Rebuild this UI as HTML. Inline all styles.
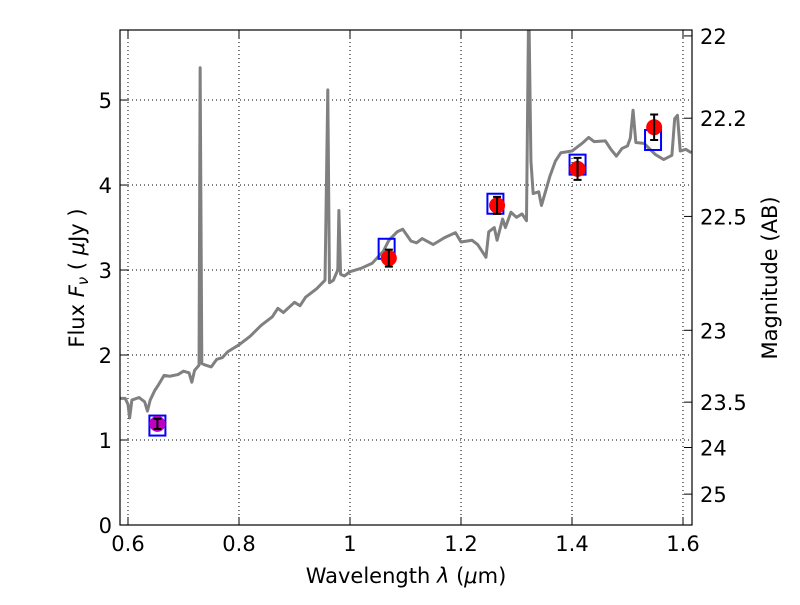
<!DOCTYPE html>
<html><head><meta charset="utf-8"><style>
body{margin:0;background:#fff;font-family:"Liberation Sans","DejaVu Sans",sans-serif}
svg text{font-family:"DejaVu Sans","Liberation Sans",sans-serif}
</style></head><body>
<svg id="c" width="800" height="600"></svg>
<script>
const specWave=[0.586,0.595,0.600,0.603,0.607,0.620,0.630,0.635,0.640,0.648,0.655,0.665,0.675,0.69,0.70,0.71,0.715,0.72,0.728,0.730,0.733,0.74,0.75,0.76,0.77,0.78,0.80,0.82,0.84,0.86,0.87,0.88,0.90,0.91,0.92,0.94,0.955,0.960,0.963,0.97,0.978,0.980,0.983,0.99,1.0,1.02,1.04,1.05,1.06,1.07,1.085,1.095,1.11,1.12,1.13,1.15,1.17,1.19,1.20,1.22,1.23,1.245,1.25,1.26,1.265,1.275,1.28,1.29,1.30,1.31,1.318,1.322,1.326,1.33,1.34,1.345,1.36,1.37,1.38,1.40,1.42,1.43,1.44,1.46,1.47,1.48,1.49,1.50,1.505,1.51,1.515,1.53,1.55,1.565,1.58,1.585,1.59,1.595,1.605,1.615];
const specFlux=[1.49,1.49,1.42,1.26,1.47,1.50,1.45,1.34,1.47,1.58,1.65,1.76,1.75,1.77,1.81,1.79,1.68,1.82,1.88,5.38,1.90,1.88,1.86,1.95,1.97,2.04,2.12,2.22,2.35,2.45,2.55,2.50,2.62,2.58,2.68,2.78,2.88,5.12,2.85,2.88,3.00,3.70,2.95,2.93,2.98,3.02,3.08,3.15,3.22,3.35,3.45,3.48,3.34,3.32,3.37,3.30,3.38,3.44,3.33,3.35,3.30,3.15,3.45,3.50,3.35,3.60,3.50,3.68,3.62,3.66,3.58,6.2,4.28,3.90,3.92,3.76,4.10,4.28,4.38,4.40,4.50,4.56,4.51,4.52,4.42,4.34,4.43,4.46,4.55,4.88,4.50,4.49,4.36,4.30,4.35,4.78,4.82,4.40,4.42,4.38];
const photWave=[0.653,1.07,1.265,1.41,1.548];
const photFlux=[1.19,3.14,3.76,4.19,4.68];
const photErr=[0.06,0.1,0.1,0.13,0.15];
const modelWave=[0.653,1.066,1.262,1.41,1.546];
const modelFlux=[1.17,3.25,3.78,4.24,4.53];
const xTicks=[0.6,0.8,1.0,1.2,1.4,1.6];
const xTickLabels=["0.6","0.8","1","1.2","1.4","1.6"];
const yTicks=[0,1,2,3,4,5];
const magTicks=[22,22.2,22.5,23,23.5,24,25];
const magLabels=["22","22.2","22.5","23","23.5","24","25"];

const L=120,R=692,T=30,B=525,X0=0.5856,X1=1.6162,Y0=0,Y1=5.824;
const sx=v=>L+(v-X0)/(X1-X0)*(R-L);
const sy=v=>B-(v-Y0)/(Y1-Y0)*(B-T);
const svg=document.getElementById('c');const NS='http://www.w3.org/2000/svg';
function mk(t,a,p){const e=document.createElementNS(NS,t);for(const k in a)e.setAttribute(k,a[k]);(p||svg).appendChild(e);return e;}
const defs=mk('defs',{});const cp=mk('clipPath',{id:'cp'},defs);mk('rect',{x:L,y:T,width:R-L,height:B-T},cp);
xTicks.forEach((v,i)=>{const x=sx(v);
 const g=mk('line',{x1:x,x2:x,y1:T,y2:B,stroke:'#000','stroke-dasharray':'1,3','stroke-width':1});
 
 mk('line',{x1:x,x2:x,y1:B,y2:B-8,stroke:'#000'});mk('line',{x1:x,x2:x,y1:T,y2:T+8,stroke:'#000'});
 const t=mk('text',{x:x,y:B+26,'text-anchor':'middle','font-size':21});t.textContent=xTickLabels[i];
 });
yTicks.forEach(v=>{const y=sy(v);
 const g=mk('line',{x1:L,x2:R,y1:y,y2:y,stroke:'#000','stroke-dasharray':'1,3','stroke-width':1});
 
 mk('line',{x1:L,x2:L+8,y1:y,y2:y,stroke:'#000'});
 const t=mk('text',{x:L-8,y:y+8,'text-anchor':'end','font-size':21});t.textContent=String(v);
 });
magTicks.forEach((m,i)=>{const f=Math.pow(10,(23.9-m)/2.5);const y=sy(f);if(y<T-1)return;
 mk('line',{x1:R,x2:R-8,y1:y,y2:y,stroke:'#000'});
 const t=mk('text',{x:R+8,y:y+8,'font-size':21});t.textContent=magLabels[i];
 });
const pl=mk('polyline',{points:specWave.map((w,i)=>sx(w)+','+sy(specFlux[i])).join(' '),fill:'none',stroke:'#808080','stroke-width':3,'stroke-linejoin':'round','clip-path':'url(#cp)'});

modelWave.forEach((w,i)=>{const r=mk('rect',{x:sx(w)-8,y:sy(modelFlux[i])-10,width:16,height:20,fill:'none',stroke:'#0000ff','stroke-width':2});
 });
photWave.forEach((w,i)=>{const x=sx(w),y=sy(photFlux[i]);
 const c=mk('circle',{cx:x,cy:y,r:8,fill:i==0?'#c000c0':'#ff0000'});
 
 const y1=sy(photFlux[i]+photErr[i]),y2=sy(photFlux[i]-photErr[i]);
 const e=mk('path',{d:`M${x},${y1}V${y2}M${x-4},${y1}H${x+4}M${x-4},${y2}H${x+4}`,stroke:'#000','stroke-width':2,fill:'none'});
 });
const fr=mk('rect',{x:L,y:T,width:R-L,height:B-T,fill:'none',stroke:'#000','stroke-width':1.2});

</script>
<svg style="position:absolute;left:0;top:0" width="800" height="600">
<text x="406" y="583" text-anchor="middle" font-size="21" font-family="DejaVu Sans">Wavelength  <tspan font-style="italic">λ</tspan> (<tspan font-style="italic">μ</tspan>m)</text>
<text transform="translate(84,278) rotate(-90)" text-anchor="middle" font-size="21" font-family="DejaVu Sans">Flux  <tspan font-style="italic">F</tspan><tspan font-style="italic" font-size="15" dy="4">ν</tspan><tspan dy="-4">  ( </tspan><tspan font-style="italic">μ</tspan>Jy )</text>
<text transform="translate(777,278) rotate(-90)" text-anchor="middle" font-size="21" font-family="DejaVu Sans">Magnitude (AB)</text>
</svg>
</body></html>
